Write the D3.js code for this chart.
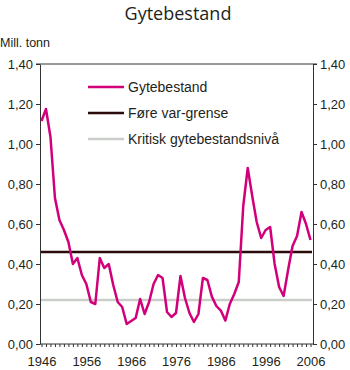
<!DOCTYPE html>
<html><head><meta charset="utf-8">
<script src="https://cdn.jsdelivr.net/npm/d3@7"></script>
<style>body{margin:0;background:#fff}svg{display:block}</style>
</head><body>
<script>
const years = d3.range(1946, 2007);
const gytebestand = [1.115,1.175,1.035,0.73,0.62,0.57,0.51,0.40,0.43,0.345,
  0.30,0.21,0.20,0.43,0.38,0.40,0.295,0.21,0.185,0.10,
  0.115,0.13,0.225,0.15,0.21,0.30,0.345,0.33,0.16,0.135,
  0.155,0.34,0.23,0.155,0.11,0.15,0.33,0.32,0.237,0.19,
  0.167,0.117,0.20,0.25,0.31,0.69,0.88,0.74,0.61,0.53,
  0.57,0.585,0.40,0.285,0.24,0.37,0.49,0.54,0.66,0.60,0.52];
const foreVarGrense = 0.46;
const kritiskNiva = 0.22;
const yTicks = [0,0.2,0.4,0.6,0.8,1.0,1.2,1.4];
const xTickLabels = [1946,1956,1966,1976,1986,1996,2006];
const legendLabels = ["Gytebestand","Føre var-grense","Kritisk gytebestandsnivå"];
const colors = ["#d1007a","#2a0a0a","#c9cec9"];

const W=350,H=370, L=40, R=313, T=64, B=344;
const svg=d3.select("body").append("svg").attr("width",W).attr("height",H);
const x=d3.scaleLinear().domain([1946,2006]).range([41.5,310.5]);
const y=d3.scaleLinear().domain([0,1.4]).range([B,T]);
const fmt=d=>d3.format(".2f")(d).replace(".",",");
const txt="#231f20", ax="#333";
const font="Liberation Sans, Arial, sans-serif";

svg.append("text").attr("x",178).attr("y",20).attr("text-anchor","middle")
  .attr("font-family","Open Sans, sans-serif").attr("font-size",18).attr("fill",txt).text("Gytebestand");
svg.append("text").attr("x",0).attr("y",47).attr("font-family",font).attr("font-size",12.5).attr("fill",txt).text("Mill. tonn");

const gl=svg.append("g").attr("transform",`translate(${L},0)`)
  .call(d3.axisLeft(y).tickValues(yTicks).tickFormat(fmt).tickSize(4).tickSizeOuter(0));
const gr=svg.append("g").attr("transform",`translate(${R},0)`)
  .call(d3.axisRight(y).tickValues(yTicks).tickFormat(fmt).tickSize(4).tickSizeOuter(0));
[gl,gr].forEach(g=>{g.selectAll("text").attr("font-family",font).attr("font-size",13).attr("fill",txt);
  g.selectAll("line,path").attr("stroke",ax);});
gl.selectAll("text").attr("x",-7);
gr.selectAll("text").attr("x",7);

const gx=svg.append("g").attr("transform",`translate(0,${B})`)
  .call(d3.axisBottom(x).tickValues(years).tickFormat(d=>xTickLabels.includes(d)?d:"").tickSize(3).tickSizeOuter(0));
gx.select(".domain").remove();
gx.selectAll("line").attr("stroke",ax);
gx.selectAll("text").attr("font-family",font).attr("font-size",13).attr("fill",txt).attr("y",13);
svg.append("line").attr("x1",L-4).attr("x2",R+4).attr("y1",T).attr("y2",T).attr("stroke",ax);
svg.append("line").attr("x1",L).attr("x2",R).attr("y1",B).attr("y2",B).attr("stroke",ax);

svg.append("line").attr("x1",L+1).attr("x2",R-1).attr("y1",y(kritiskNiva)).attr("y2",y(kritiskNiva))
  .attr("stroke",colors[2]).attr("stroke-width",2.5);
svg.append("line").attr("x1",L+1).attr("x2",R-1).attr("y1",y(foreVarGrense)).attr("y2",y(foreVarGrense))
  .attr("stroke",colors[1]).attr("stroke-width",2.5);

svg.append("path").datum(gytebestand.map((v,i)=>[years[i],v]))
  .attr("d",d3.line().x(d=>x(d[0])).y(d=>y(d[1])))
  .attr("fill","none").attr("stroke",colors[0]).attr("stroke-width",2.5).attr("stroke-linejoin","round");

legendLabels.forEach((lab,i)=>{
  const yy=87+i*26;
  svg.append("line").attr("x1",88).attr("x2",124).attr("y1",yy).attr("y2",yy).attr("stroke",colors[i]).attr("stroke-width",2.5);
  svg.append("text").attr("x",128).attr("y",yy+5).attr("font-family",font).attr("font-size",14).attr("fill",txt).text(lab);
});
</script>
</body></html>
